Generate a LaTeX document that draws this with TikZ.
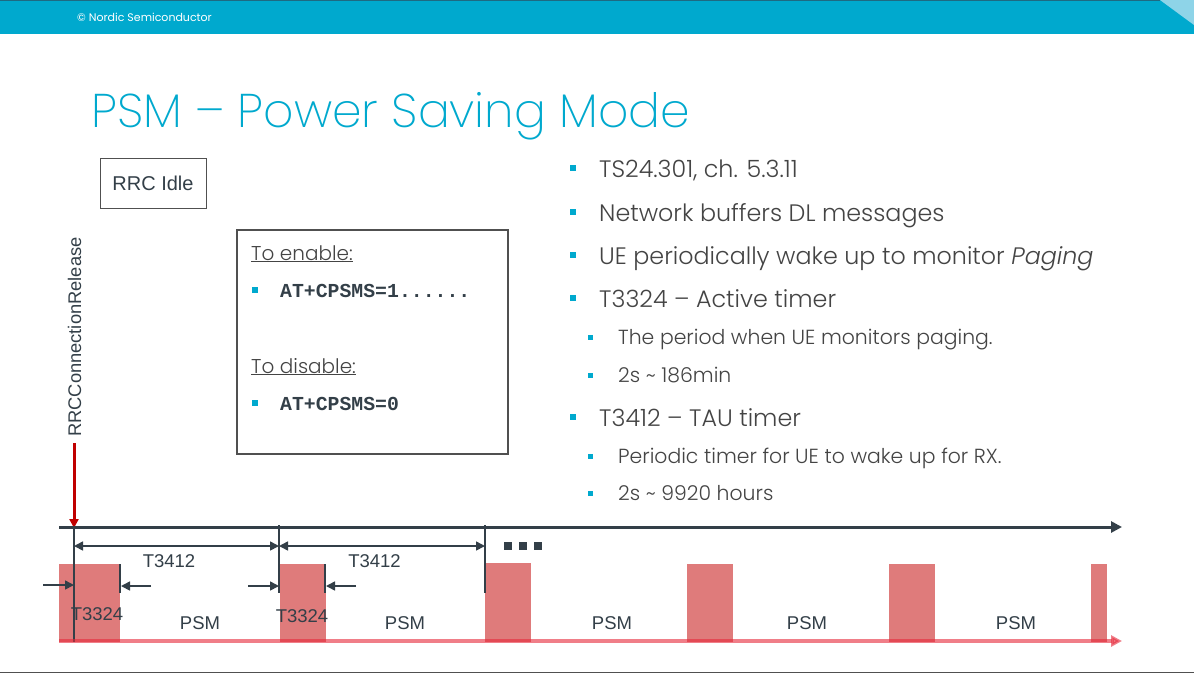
\documentclass[tikz,border=0pt]{standalone}
\usepackage{fontspec}
\setmainfont{Liberation Sans}
\newfontfamily\slidefont{Poppins}[UprightFont=* Light, ItalicFont=* Light Italic]
\newfontfamily\titlefont{Poppins}[UprightFont=* ExtraLight]
\newfontfamily\slidereg{Poppins}
\newfontfamily\codefont{Liberation Mono}
\usetikzlibrary{arrows.meta}

\definecolor{nordic}{HTML}{00A9CE}
\definecolor{nordiclight}{HTML}{8ED4E8}
\definecolor{nordicdark}{HTML}{1E6A82}
\definecolor{bodygray}{HTML}{444444}
\definecolor{boxgray}{HTML}{505050}
\definecolor{axisdark}{HTML}{333F48}
\definecolor{blockred}{HTML}{DF7B7B}
\definecolor{lineRed}{HTML}{E6283A}
\definecolor{relred}{HTML}{C00000}

\tikzset{
  bodytext/.style={anchor=base west, text=bodygray, inner sep=0pt,
    font=\slidefont\fontsize{23.8}{26}\selectfont},
  subtext/.style={anchor=base west, text=bodygray, inner sep=0pt,
    font=\slidefont\fontsize{20.4}{22}\selectfont},
  bigbullet/.style={fill=nordic, minimum size=6.5pt, inner sep=0pt, draw=none},
  smallbullet/.style={fill=nordic, minimum size=5pt, inner sep=0pt, draw=none},
  diagtext/.style={text=axisdark, inner sep=0pt, font=\fontsize{18.5}{20}\selectfont},
  codetext/.style={anchor=base west, text=axisdark, inner sep=0pt,
    font=\codefont\bfseries\fontsize{19.8}{22}\selectfont},
  headtext/.style={anchor=base west, text=bodygray, inner sep=0pt,
    font=\slidefont\fontsize{20}{22}\selectfont},
  axisline/.style={axisdark, line width=3pt, -{Triangle[length=11pt,width=11pt]}},
  timerarrow/.style={axisdark, line width=1.6pt, {Triangle[length=9pt,width=9pt]}-{Triangle[length=9pt,width=9pt]}},
  pointer/.style={axisdark, line width=1.6pt, -{Triangle[length=9pt,width=9pt]}},
  marker/.style={axisdark, line width=1.6pt},
  wake/.style={fill=blockred, draw=none},
  psmline/.style={lineRed, opacity=0.6, line width=3.5pt, -{Triangle[length=11pt,width=11pt]}},
}

\begin{document}
\begin{tikzpicture}[x=1pt, y=-1pt]
\useasboundingbox (0,0) rectangle (1194,673);
\fill[white] (0,0) rectangle (1194,673);

% header band
\fill[nordic] (0,0) rectangle (1194,34);
\fill[nordiclight] (1160,0) -- (1194,0) -- (1194,25) -- cycle;
\fill[nordicdark] (0,0) rectangle (1160,1);
\node[anchor=base west, text=white, inner sep=0pt, font=\slidereg\fontsize{11}{12}\selectfont]
  (copyright) at (77,21) {© Nordic Semiconductor};

% footer rule
\draw[boxgray, line width=1pt] (0,672) -- (1194,672);

% title
\node[anchor=base west, text=nordic, inner sep=0pt, font=\titlefont\fontsize{47.3}{50}\selectfont]
  (title) at (91,127) {PSM – Power Saving Mode};

% RRC Idle state box
\node[draw=boxgray, line width=1pt, minimum width=106pt, minimum height=50pt,
  font=\fontsize{20}{22}\selectfont, text=axisdark] (idle) at (153,183) {RRC Idle};

% AT command box
\node[draw=boxgray, line width=1.2pt, minimum width=271pt, minimum height=224pt, inner sep=0pt]
  (cfg) at (372.5,342) {};
\node[headtext] (enable) at (251,260) {\underline{To enable:}};
\node[smallbullet, minimum size=5.5pt] (enb) at (255,290) {};
\node[codetext] (encmd) at (280,297) {AT+CPSMS=1......};
\node[headtext] (disable) at (251,373) {\underline{To disable:}};
\node[smallbullet, minimum size=5.5pt] (disb) at (255,403) {};
\node[codetext] (discmd) at (280,410) {AT+CPSMS=0};

% right-hand bullet list
\node[bigbullet] (b1) at (573,168) {};
\node[bodytext] (l1) at (599,177) {TS24.301, ch. 5.3.11};
\node[bigbullet] (b2) at (573,212) {};
\node[bodytext] (l2) at (599,221) {Network buffers DL messages};
\node[bigbullet] (b3) at (573,255) {};
\node[bodytext] (l3) at (599,264) {UE periodically wake up to monitor \textit{Paging}};
\node[bigbullet] (b4) at (573,298) {};
\node[bodytext] (l4) at (599,307) {T3324 – Active timer};
\node[smallbullet] (s1) at (590,337) {};
\node[subtext] (l5) at (618,344) {The period when UE monitors paging.};
\node[smallbullet] (s2) at (590,375) {};
\node[subtext] (l6) at (618,382) {2s \textasciitilde{} 186min};
\node[bigbullet] (b5) at (573,417) {};
\node[bodytext] (l7) at (599,426) {T3412 – TAU timer};
\node[smallbullet] (s3) at (590,456) {};
\node[subtext] (l8) at (618,463) {Periodic timer for UE to wake up for RX.};
\node[smallbullet] (s4) at (590,493) {};
\node[subtext] (l9) at (618,500) {2s \textasciitilde{} 9920 hours};

% release event
\node[rotate=90, anchor=base west, inner sep=0pt, text=axisdark,
  font=\fontsize{18.3}{20}\selectfont] (rrcrel) at (81,437) {RRCConnectionRelease};
\coordinate (relTop) at (74,443);
\coordinate (t0) at (74,527);
\draw[relred, line width=3pt, -{Triangle[length=9pt,width=9pt]}] (relTop) -- ([yshift=-1pt]t0);

% wake-up periods
\fill[wake] (59,564) rectangle (120,642);
\fill[wake] (280,564) rectangle (326,642);
\fill[wake] (485,563) rectangle (531,642);
\fill[wake] (687,564) rectangle (733,642);
\fill[wake] (889,564) rectangle (935,642);
\fill[wake] (1091,564) rectangle (1107,642);

% main time axis
\coordinate (axStart) at (59,527);
\coordinate (axEnd) at (1122,527);
\draw[axisline] (axStart) -- (axEnd);

% period markers
\coordinate (t0low) at (74,642);
\coordinate (t1) at (279,525);
\coordinate (t1low) at (279,593);
\coordinate (t2) at (485,525);
\coordinate (t2low) at (485,593);
\draw[marker, line width=1.3pt] (t0) -- (t0low);
\draw[marker] (t1) -- (t1low);
\draw[marker] (t2) -- (t2low);
\coordinate (a0) at (120,564);
\coordinate (a0low) at (120,593);
\draw[marker] (a0) -- (a0low);
\coordinate (a1) at (325,564);
\coordinate (a1low) at (325,593);
\draw[marker] (a1) -- (a1low);

% T3412 spans
\coordinate (p0) at (74,546);
\coordinate (p1) at (279,546);
\coordinate (p2) at (485,546);
\draw[timerarrow] (p0) -- (p1);
\draw[timerarrow] (p1) -- (p2);
\node[diagtext, anchor=base] (tau1) at (169,567) {T3412};
\node[diagtext, anchor=base] (tau2) at (374.5,567) {T3412};

% continuation dots
\fill[axisdark] (504,542) rectangle (512,550);
\fill[axisdark] (519,542) rectangle (527,550);
\fill[axisdark] (534,542) rectangle (542,550);

% T3324 pointers
\coordinate (q0) at (43,585);
\coordinate (q0e) at (74,585);
\coordinate (q1) at (151,586);
\coordinate (q1e) at (121,586);
\coordinate (q2) at (248,586);
\coordinate (q2e) at (279,586);
\coordinate (q3) at (356,586);
\coordinate (q3e) at (326,586);
\draw[pointer] (q0) -- (q0e);
\draw[pointer] (q1) -- (q1e);
\draw[pointer] (q2) -- (q2e);
\draw[pointer] (q3) -- (q3e);
\node[diagtext, anchor=base] (act1) at (97,620) {T3324};
\node[diagtext, anchor=base] (act2) at (302,622) {T3324};

% PSM labels
\node[diagtext, anchor=base] (psm1) at (200,629) {PSM};
\node[diagtext, anchor=base] (psm2) at (405,629) {PSM};
\node[diagtext, anchor=base] (psm3) at (612,629) {PSM};
\node[diagtext, anchor=base] (psm4) at (807,629) {PSM};
\node[diagtext, anchor=base] (psm5) at (1016,629) {PSM};

% power-saving time axis
\coordinate (psStart) at (59,641);
\coordinate (psEnd) at (1122,641);
\draw[psmline] (psStart) -- (psEnd);
\end{tikzpicture}
\end{document}
